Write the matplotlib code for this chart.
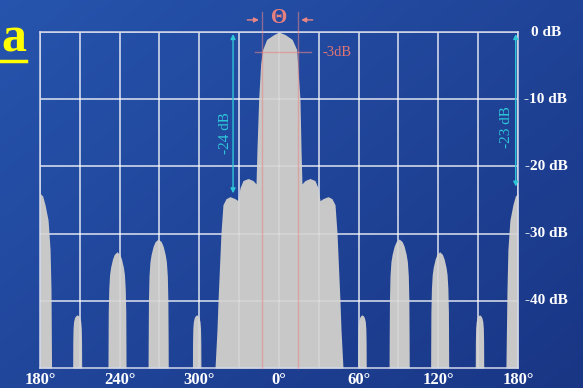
import numpy as np
import matplotlib
matplotlib.use("Agg")
import matplotlib.pyplot as plt

# -----------------------------
# Radiation pattern outline (angle in degrees, level in dB)
# -----------------------------
main_deg = [-48.2, -46.7, -45.9, -43.7, -42.2, -39.9, -36.9, -33.1, -30.9, -29.4,
            -27.1, -23.3, -19.6, -17.3, -16.6, -15.3, -13.8, -12.3, -9.3, -3.8,
            0.0, 4.5, 9.9, 13.3, 14.0, 15.8, 16.6, 17.3, 19.6, 23.3,
            27.1, 29.4, 30.9, 33.1, 36.9, 39.9, 42.2, 43.7, 45.9, 46.7, 48.2]
main_db = [-50, -44.3, -39.9, -29.9, -25.7, -24.8, -24.5, -24.8, -25.1, -23.2,
           -22.1, -21.8, -22.1, -22.6, -17.5, -10.0, -4.7, -2.6, -1.1, -0.37,
           0.0, -0.37, -1.1, -2.6, -4.7, -10.0, -17.5, -22.6, -22.1, -21.8,
           -22.1, -23.2, -25.1, -24.8, -24.5, -24.8, -25.7, -29.9, -39.9, -44.3, -50]

side_deg = [
    # 180 deg (left edge)
    -180.0, -178.0, -176.2, -173.9, -172.4, -171.7, -171.3,
    # 210 deg
    -155.4, -155.3, -155.1, -154.7, -154.0, -153.0, -152.0, -151.0, -150.0, -149.3, -148.9, -148.7, -148.6,
    # 240 deg
    -128.8, -128.75, -128.6, -128.2, -127.6, -126.8, -125.4, -124.1, -122.0, -119.9, -118.6, -117.2, -116.4,
    -115.8, -115.4, -115.25, -115.2,
    # 270 deg
    -98.6, -98.5, -98.3, -97.9, -97.2, -96.3, -94.8, -93.3, -91.0, -88.7, -87.2, -85.7, -84.8,
    -84.1, -83.7, -83.5, -83.4,
    # 300 deg
    -65.2, -65.1, -64.9, -64.5, -63.8, -62.9, -62.0, -61.1, -60.2, -59.5, -59.1, -58.9, -58.8,
    # 60 deg
    59.3, 59.4, 59.6, 60.0, 60.7, 61.6, 62.5, 63.4, 64.3, 65.0, 65.4, 65.6, 65.7,
    # 90 deg
    82.9, 83.0, 83.2, 83.6, 84.3, 85.2, 86.7, 88.2, 90.5, 92.8, 94.3, 95.8, 96.7,
    97.4, 97.8, 98.0, 98.1,
    # 120 deg
    114.2, 114.25, 114.4, 114.8, 115.4, 116.2, 117.6, 118.9, 121.0, 123.1, 124.4, 125.8, 126.6,
    127.2, 127.6, 127.75, 127.8,
    # 150 deg
    147.8, 147.9, 148.1, 148.5, 149.2, 150.1, 151.0, 151.9, 152.8, 153.5, 153.9, 154.1, 154.2,
    # 180 deg (right edge)
    170.9, 171.7, 172.4, 173.9, 176.2, 178.0, 180.0,
]
side_db = [
    -24.0, -24.4, -25.7, -28.0, -32.4, -38.4, -50,
    -50, -46.1, -44.1, -43.1, -42.5, -42.2, -42.1, -42.2, -42.5, -43.1, -44.1, -46.1, -50,
    -50, -47.7, -41.7, -38.2, -36.1, -35.0, -33.8, -33.1, -32.7, -33.1, -33.8, -35.0, -36.1,
    -38.2, -41.7, -47.7, -50,
    -50, -45.8, -39.8, -36.3, -34.2, -33.1, -31.9, -31.2, -30.8, -31.2, -31.9, -33.1, -34.2,
    -36.3, -39.8, -45.8, -50,
    -50, -46.1, -44.1, -43.1, -42.5, -42.2, -42.1, -42.2, -42.5, -43.1, -44.1, -46.1, -50,
    -50, -46.1, -44.1, -43.1, -42.5, -42.2, -42.1, -42.2, -42.5, -43.1, -44.1, -46.1, -50,
    -50, -45.8, -39.8, -36.3, -34.2, -33.1, -31.9, -31.2, -30.8, -31.2, -31.9, -33.1, -34.2,
    -36.3, -39.8, -45.8, -50,
    -50, -47.7, -41.7, -38.2, -36.1, -35.0, -33.8, -33.1, -32.7, -33.1, -33.8, -35.0, -36.1,
    -38.2, -41.7, -47.7, -50,
    -50, -46.1, -44.1, -43.1, -42.5, -42.2, -42.1, -42.2, -42.5, -43.1, -44.1, -46.1, -50,
    -50, -38.4, -32.4, -28.0, -25.7, -24.4, -24.0,
]

# axis labels
xtick_pos = [-180, -120, -60, 0, 60, 120, 180]
xtick_labels = ["180°", "240°", "300°", "0°", "60°", "120°", "180°"]
db_levels = [0, -10, -20, -30, -40]

# annotations
hpbw_edges = [-13.0, 14.6]   # half-power beamwidth markers
hpbw_level = -3
sll_left = -24
sll_right = -23

# -----------------------------
# Figure with blue gradient background
# -----------------------------
fig = plt.figure(figsize=(5.83, 3.88), dpi=100)
bg = fig.add_axes([0, 0, 1, 1])
yy, xx = np.mgrid[0:1:200j, 0:1:300j]
t = np.clip(0.55 * xx + 0.45 * yy, 0, 1)[..., None]
c0 = np.array([0.15, 0.33, 0.68])
c1 = np.array([0.10, 0.21, 0.52])
bg.imshow(c0 * (1 - t) + c1 * t, extent=[0, 1, 0, 1], aspect="auto")
bg.axis("off")

ax = fig.add_axes([0.0686, 0.0515, 0.8199, 0.866])
ax.set_facecolor("none")
ax.set_xlim(-180, 180)
ax.set_ylim(-50, 0)

# grid: bright under the pattern, faint over it
grid_x = np.arange(-180, 181, 30)
for gx in grid_x:
    ax.axvline(gx, color="white", alpha=0.75, lw=1.1, zorder=1)
    ax.axvline(gx, color="white", alpha=0.25, lw=1.1, zorder=3)
for gy in db_levels:
    ax.axhline(gy, color="white", alpha=0.75, lw=1.1, zorder=1)
    ax.axhline(gy, color="white", alpha=0.25, lw=1.1, zorder=3)

pat_deg = np.array(side_deg + main_deg)
pat_db = np.array(side_db + main_db)
order = np.argsort(pat_deg, kind="stable")
ax.fill_between(pat_deg[order], pat_db[order], -50, color="#c8c8c8", lw=0, zorder=2)

for s in ax.spines.values():
    s.set_color("#d4d9ea")
    s.set_linewidth(1.1)
    s.set_zorder(4)

ax.set_xticks(xtick_pos)
ax.set_xticklabels(xtick_labels, family="Liberation Serif", weight="bold",
                   fontsize=12, color="white")
ax.tick_params(axis="x", length=0, pad=3)
ax.set_yticks([])

# dB scale on the right
for lev in db_levels:
    ax.text(201, lev, f"{lev} dB", ha="center", va="center", color="white",
            family="Liberation Serif", weight="bold", fontsize=11, clip_on=False)

# half-power beamwidth annotation
pink = "#e88585"
for xe in hpbw_edges:
    ax.plot([xe, xe], [-50, 3.0], color=pink, alpha=0.55, lw=1, zorder=5, clip_on=False)
ax.plot([-18.1, 24.1], [hpbw_level, hpbw_level], color=pink, alpha=0.6, lw=1, zorder=5)
ax.text(32.4, hpbw_level, f"{hpbw_level}dB", color="#e07575", ha="left", va="center",
        family="Liberation Serif", fontsize=10.5)
ax.text(0, 2.1, "Θ", color="#e88080", ha="center", va="center",
        family="Liberation Serif", weight="bold", fontsize=15, clip_on=False)
ax.annotate("", xy=(hpbw_edges[0], 1.8), xytext=(-26, 1.8),
            arrowprops=dict(arrowstyle="-|>", color=pink, lw=1, mutation_scale=7),
            annotation_clip=False)
ax.annotate("", xy=(hpbw_edges[1], 1.8), xytext=(27.5, 1.8),
            arrowprops=dict(arrowstyle="-|>", color=pink, lw=1, mutation_scale=7),
            annotation_clip=False)

# side lobe level annotations
cyan = "#2fc6d8"
ax.annotate("", xy=(-34.6, -0.3), xytext=(-34.6, sll_left),
            arrowprops=dict(arrowstyle="<|-|>", color=cyan, lw=1, mutation_scale=7,
                            shrinkA=0, shrinkB=0), zorder=6)
ax.text(-40.5, -15, f"{sll_left} dB", rotation=90, color=cyan, ha="center", va="center",
        family="Liberation Serif", fontsize=11, zorder=6)
ax.annotate("", xy=(178.3, -0.3), xytext=(178.3, sll_right),
            arrowprops=dict(arrowstyle="<|-|>", color=cyan, lw=1, mutation_scale=7,
                            shrinkA=0, shrinkB=0), zorder=6)
ax.text(171.7, -14.1, f"{sll_right} dB", rotation=90, color=cyan, ha="center", va="center",
        family="Liberation Serif", fontsize=11, zorder=6)

# panel letter
fig.text(1 / 583, 1 - 52 / 388, "a", color="#ffff00", ha="left", va="baseline",
         family="Liberation Serif", weight="bold", fontsize=36)
fig.add_artist(plt.Line2D([0, 26 / 583], [1 - 61 / 388, 1 - 61 / 388],
                          color="#ffff00", lw=2.5))

fig.savefig("out.png", dpi=100)
